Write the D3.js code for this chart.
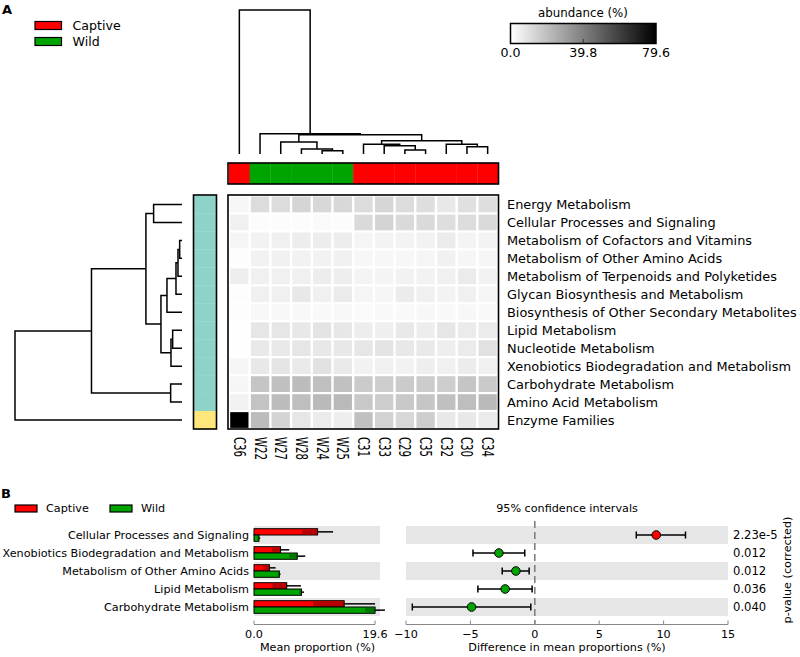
<!DOCTYPE html>
<html><head><meta charset="utf-8">
<script src="https://cdn.jsdelivr.net/npm/d3@7"></script>
<style>
body{margin:0;background:#fff}
svg{display:block}
text{font-family:"DejaVu Sans",sans-serif;fill:#000}
</style>
</head><body>
<svg id="chart" width="800" height="657"></svg>
<script>
// ---------------- DATA ----------------
const samples = ["C36","W22","W27","W28","W24","W25","C31","C33","C29","C35","C32","C30","C34"];
const sampleGroups = ["Captive","Wild","Wild","Wild","Wild","Wild","Captive","Captive","Captive","Captive","Captive","Captive","Captive"];
const groupNames = ["Captive","Wild"];
const groupColors = ["#ff0000","#00a400"];

const pathways = [
  "Energy Metabolism",
  "Cellular Processes and Signaling",
  "Metabolism of Cofactors and Vitamins",
  "Metabolism of Other Amino Acids",
  "Metabolism of Terpenoids and Polyketides",
  "Glycan Biosynthesis and Metabolism",
  "Biosynthesis of Other Secondary Metabolites",
  "Lipid Metabolism",
  "Nucleotide Metabolism",
  "Xenobiotics Biodegradation and Metabolism",
  "Carbohydrate Metabolism",
  "Amino Acid Metabolism",
  "Enzyme Families"
];
const pathwayClusters = [1,1,1,1,1,1,1,1,1,1,1,1,2];
const clusterColors = {1:"#8dd3c7", 2:"#ffe67a"};

// abundance (%) rows = pathways, columns = samples (order above)
const abundance = [
  [2.5,10.9,10.9,13.1,12.2,12.2,10.9,12.8,10.9,10.3,7.2,9.7,10.3],
  [4.7,0.9,0.9,0.9,1.6,0.9,11.6,13.4,11.6,11.6,10.3,10.9,11.6],
  [3.1,4.1,4.7,5.6,5.6,5.6,3.1,3.7,3.7,4.1,6.2,3.4,3.7],
  [0.5,4.0,4.3,4.1,4.2,4.3,2.6,2.5,2.6,3.0,4.4,2.8,2.8],
  [5.3,4.7,4.7,4.7,5.6,5.3,3.4,3.4,4.1,4.1,4.7,6.2,4.1],
  [0.6,4.7,4.7,7.2,4.7,6.2,3.1,2.8,5.9,4.7,3.7,4.7,3.1],
  [0.6,2.2,2.2,2.2,1.9,2.2,1.6,1.9,1.9,2.5,1.9,2.5,1.9],
  [0.3,7.7,7.8,7.2,8.3,7.6,5.6,5.0,6.8,5.6,7.9,6.2,6.2],
  [0.3,6.9,6.9,7.8,7.2,7.2,7.8,8.4,7.2,6.9,5.3,6.2,9.4],
  [2.8,7.2,8.1,6.6,9.1,6.6,4.1,4.7,4.1,5.3,4.7,5.9,4.7],
  [2.8,18.2,19.6,21.0,20.0,19.2,16.2,15.6,16.3,15.8,15.6,18.0,16.4],
  [4.1,18.7,20.9,20.3,21.5,21.9,17.2,15.6,17.2,17.8,19.7,20.3,21.5],
  [79.6,20.9,13.4,7.8,6.2,5.3,19.7,14.0,12.5,15.6,7.2,7.2,6.2]
];
const colorbarTicks = [0.0, 39.8, 79.6];

// dendrograms: [mergeHeight, left, right]
const sampleTree = [100, "C36",
  [14.1, "W22",
    [13.4,
      [8.3, "W27", [3.5, "W28", [2.3, "W24", "W25"]]],
      [9.2,
        [6.7, "C31", [5.8, "C33", [2.8, "C29", "C35"]]],
        [6.7, "C32", [5.1, "C30", "C34"]]
      ]
    ]
  ]
];
const pathwayTree = [100,
  [54.2,
    [21.6,
      [17.0, "Energy Metabolism", "Cellular Processes and Signaling"],
      [12.6,
        [9.0,
          [3.6,
            [2.4,
              [1.4, "Metabolism of Cofactors and Vitamins", "Metabolism of Other Amino Acids"],
              "Metabolism of Terpenoids and Polyketides"],
            "Glycan Biosynthesis and Metabolism"],
          "Biosynthesis of Other Secondary Metabolites"],
        [6.6,
          [5.6, "Lipid Metabolism", "Nucleotide Metabolism"],
          "Xenobiotics Biodegradation and Metabolism"]
      ]
    ],
    [6.8, "Carbohydrate Metabolism", "Amino Acid Metabolism"]
  ],
  "Enzyme Families"
];

// Panel B
const diffPathways = [
  "Cellular Processes and Signaling",
  "Xenobiotics Biodegradation and Metabolism",
  "Metabolism of Other Amino Acids",
  "Lipid Metabolism",
  "Carbohydrate Metabolism"
];
const captiveMean = [10.3, 4.3, 2.5, 5.3, 14.6];
const captiveSD   = [2.5, 1.4, 1.0, 2.3, 5.0];
const wildMean    = [0.8, 7.0, 4.1, 7.7, 19.6];
const wildSD      = [0.2, 1.3, 0.2, 0.4, 1.6];
const diffMean    = [9.43, -2.79, -1.47, -2.30, -4.91];
const ciLow       = [7.88, -4.80, -2.53, -4.42, -9.51];
const ciHigh      = [11.70, -0.78, -0.44, -0.21, -0.31];
const pValues     = ["2.23e-5", "0.012", "0.012", "0.036", "0.040"];
const propTicks   = [0.0, 19.6];
const diffTicks   = [-10, -5, 0, 5, 10, 15];

// ---------------- DRAW ----------------
const svg = d3.select("#chart");
const FS = 12.6;   // panel A legend
const FR = 12.9;   // panel A row labels
const FB = 11.2;   // panel B texts

// Panel A label & legend
svg.append("text").attr("x", 2).attr("y", 14).attr("font-size", 13).attr("font-weight", "bold").text("A");
const legA = svg.append("g");
groupNames.forEach((g, i) => {
  legA.append("rect").attr("x", 35).attr("y", 21.5 + i * 16).attr("width", 26.5).attr("height", 8)
    .attr("fill", groupColors[i]).attr("stroke", "#000").attr("stroke-width", 1.2);
  legA.append("text").attr("x", 72.5).attr("y", 25.5 + i * 16).attr("dy", "0.35em")
    .attr("font-size", FS).text(g);
});

// scales for heatmap
const xCol = d3.scaleBand().domain(samples).range([229, 498]);
const yRow = d3.scaleBand().domain(pathways).range([195.5, 429]);
const maxAb = colorbarTicks[colorbarTicks.length - 1];
const color = d3.scaleLinear().domain([0, maxAb]).range(["#ffffff", "#000000"]);

// heatmap cells
const hm = svg.append("g");
pathways.forEach((p, r) => {
  samples.forEach((s, c) => {
    hm.append("rect")
      .attr("x", xCol(s) + 1.2).attr("y", yRow(p) + 1.1)
      .attr("width", xCol.bandwidth() - 2.4).attr("height", yRow.bandwidth() - 2.2)
      .attr("fill", color(abundance[r][c]));
  });
});
hm.append("rect").attr("x", 228).attr("y", 195).attr("width", 270.5).attr("height", 234)
  .attr("fill", "none").attr("stroke", "#000").attr("stroke-width", 1.6);

// column group colour bar
const cb = svg.append("g");
samples.forEach((s, i) => {
  cb.append("rect").attr("x", xCol(s)).attr("y", 163).attr("width", xCol.bandwidth() + 0.3).attr("height", 21)
    .attr("fill", groupColors[groupNames.indexOf(sampleGroups[i])]);
});
cb.append("rect").attr("x", 228).attr("y", 163).attr("width", 270.5).attr("height", 21)
  .attr("fill", "none").attr("stroke", "#000").attr("stroke-width", 1.6);

// row cluster colour bar
const rb = svg.append("g");
pathways.forEach((p, i) => {
  rb.append("rect").attr("x", 193.5).attr("y", yRow(p)).attr("width", 23).attr("height", yRow.bandwidth() + 0.3)
    .attr("fill", clusterColors[pathwayClusters[i]]);
});
rb.append("rect").attr("x", 193.5).attr("y", 195).attr("width", 23).attr("height", 234)
  .attr("fill", "none").attr("stroke", "#000").attr("stroke-width", 1.6);

// row labels
pathways.forEach(p => {
  svg.append("text").attr("x", 507).attr("y", yRow(p) + yRow.bandwidth() / 2).attr("dy", "0.35em")
    .attr("font-size", FR).text(p);
});
// column labels (rotated)
samples.forEach(s => {
  svg.append("text")
    .attr("transform", `translate(${xCol(s) + xCol.bandwidth() / 2},437) rotate(90) scale(0.85,1.3)`)
    .attr("dy", "0.35em").attr("font-size", 12).text(s);
});

// dendrogram layout
function layout(node, leafPos) {
  if (typeof node === "string") return { leaf: true, pos: leafPos(node), h: 0 };
  const l = layout(node[1], leafPos), r = layout(node[2], leafPos);
  return { leaf: false, h: node[0], l, r, pos: (l.pos + r.pos) / 2 };
}
function internals(n, out = []) {
  if (n.leaf) return out;
  out.push(n); internals(n.l, out); internals(n.r, out); return out;
}
// top dendrogram
const colRoot = layout(sampleTree, s => xCol(s) + xCol.bandwidth() / 2);
const hTop = d3.scaleLinear().domain([0, 100]).range([154, 10]);
svg.append("g").selectAll("path").data(internals(colRoot)).join("path")
  .attr("d", n => `M${n.l.pos},${hTop(n.l.h)}V${hTop(n.h)}H${n.r.pos}V${hTop(n.r.h)}`)
  .attr("fill", "none").attr("stroke", "#000").attr("stroke-width", 1.5);
// left dendrogram
const rowRoot = layout(pathwayTree, p => yRow(p) + yRow.bandwidth() / 2);
const hLeft = d3.scaleLinear().domain([0, 100]).range([182, 15]);
svg.append("g").selectAll("path").data(internals(rowRoot)).join("path")
  .attr("d", n => `M${hLeft(n.l.h)},${n.l.pos}H${hLeft(n.h)}V${n.r.pos}H${hLeft(n.r.h)}`)
  .attr("fill", "none").attr("stroke", "#000").attr("stroke-width", 1.5);

// colour bar legend
const grad = svg.append("defs").append("linearGradient").attr("id", "gr");
grad.append("stop").attr("offset", "0%").attr("stop-color", color(0));
grad.append("stop").attr("offset", "100%").attr("stop-color", color(maxAb));
const cbx = d3.scaleLinear().domain([0, maxAb]).range([510.5, 656]);
svg.append("rect").attr("x", cbx(0)).attr("y", 23.5).attr("width", cbx(maxAb) - cbx(0)).attr("height", 20)
  .attr("fill", "url(#gr)").attr("stroke", "#000").attr("stroke-width", 1.5);
svg.append("text").attr("x", 583).attr("y", 13).attr("dy", "0.35em").attr("text-anchor", "middle")
  .attr("font-size", 11.8).text("abundance (%)");
colorbarTicks.forEach(t => {
  svg.append("text").attr("x", cbx(t)).attr("y", 53).attr("dy", "0.35em").attr("text-anchor", "middle")
    .attr("font-size", FS).text(t.toFixed(1));
});
svg.append("line").attr("x1", cbx(colorbarTicks[1])).attr("x2", cbx(colorbarTicks[1]))
  .attr("y1", 43.5).attr("y2", 39).attr("stroke", "#333").attr("stroke-width", 1);

// ---------------- Panel B ----------------
svg.append("text").attr("x", 1).attr("y", 498).attr("font-size", 13).attr("font-weight", "bold").text("B");
groupNames.forEach((g, i) => {
  const x0 = i === 0 ? 15 : 110;
  svg.append("rect").attr("x", x0).attr("y", 505).attr("width", 22).attr("height", 7)
    .attr("fill", groupColors[i]).attr("stroke", "#000").attr("stroke-width", 1.2);
  svg.append("text").attr("x", x0 + 31).attr("y", 508.5).attr("dy", "0.35em").attr("font-size", FB).text(g);
});

const yB = d3.scaleBand().domain(diffPathways).range([526, 616]);
const xP = d3.scaleLinear().domain([0, 20.4]).range([254, 380]);
const xD = d3.scaleLinear().domain([-10, 15]).range([406, 728]);

// alternating background bands
diffPathways.forEach((p, i) => {
  if (i % 2 === 0) {
    svg.append("rect").attr("x", xP.range()[0]).attr("y", yB(p)).attr("width", xP.range()[1] - xP.range()[0])
      .attr("height", yB.bandwidth()).attr("fill", "#e6e6e6");
    svg.append("rect").attr("x", xD.range()[0]).attr("y", yB(p)).attr("width", xD.range()[1] - xD.range()[0])
      .attr("height", yB.bandwidth()).attr("fill", "#e6e6e6");
  }
  svg.append("text").attr("x", 249).attr("y", yB(p) + yB.bandwidth() / 2).attr("dy", "0.35em")
    .attr("text-anchor", "end").attr("font-size", FB).text(p);
});

// bars
const barH = 6.3;
diffPathways.forEach((p, i) => {
  const yc = yB(p) + yB.bandwidth() / 2;
  [[captiveMean[i], captiveSD[i], groupColors[0], yc - barH], [wildMean[i], wildSD[i], groupColors[1], yc]]
    .forEach(([m, sd, col, y0]) => {
      svg.append("rect").attr("x", xP(0)).attr("y", y0).attr("width", xP(m) - xP(0)).attr("height", barH)
        .attr("fill", col).attr("stroke", "#000").attr("stroke-width", 1);
      svg.append("rect").attr("x", xP(Math.max(0, m - sd))).attr("y", y0 + 1).attr("width", xP(m) - xP(Math.max(0, m - sd)))
        .attr("height", barH - 2).attr("fill", "#000").attr("fill-opacity", 0.28);
      svg.append("line").attr("x1", xP(m)).attr("x2", xP(m + sd)).attr("y1", y0 + barH / 2).attr("y2", y0 + barH / 2)
        .attr("stroke", "#000").attr("stroke-width", 1.5);
    });
});

// bar axis
const gP = svg.append("g").attr("transform", "translate(0,624.5)");
gP.append("line").attr("x1", xP(propTicks[0])).attr("x2", xP(propTicks[1])).attr("stroke", "#888");
propTicks.forEach(t => {
  gP.append("line").attr("x1", xP(t)).attr("x2", xP(t)).attr("y1", 0).attr("y2", -4).attr("stroke", "#888");
  gP.append("text").attr("x", xP(t)).attr("y", 9.5).attr("dy", "0.35em").attr("text-anchor", "middle")
    .attr("font-size", FB).text(t.toFixed(1));
});
gP.append("text").attr("x", (xP(propTicks[0]) + xP(propTicks[1])) / 2 + 3).attr("y", 22.5).attr("dy", "0.35em")
  .attr("text-anchor", "middle").attr("font-size", FB).text("Mean proportion (%)");

// CI panel
svg.append("line").attr("x1", xD(0)).attr("x2", xD(0)).attr("y1", 521).attr("y2", 624)
  .attr("stroke", "#808080").attr("stroke-width", 1.6).attr("stroke-dasharray", "7,4");
diffPathways.forEach((p, i) => {
  const yc = yB(p) + yB.bandwidth() / 2;
  svg.append("line").attr("x1", xD(ciLow[i])).attr("x2", xD(ciHigh[i])).attr("y1", yc).attr("y2", yc)
    .attr("stroke", "#000").attr("stroke-width", 1.5);
  [ciLow[i], ciHigh[i]].forEach(v => {
    svg.append("line").attr("x1", xD(v)).attr("x2", xD(v)).attr("y1", yc - 3.5).attr("y2", yc + 3.5)
      .attr("stroke", "#000").attr("stroke-width", 1.5);
  });
  svg.append("circle").attr("cx", xD(diffMean[i])).attr("cy", yc).attr("r", 4.3)
    .attr("fill", diffMean[i] > 0 ? groupColors[0] : groupColors[1]).attr("stroke", "#000").attr("stroke-width", 1);
  svg.append("text").attr("x", 733).attr("y", yc).attr("dy", "0.35em").attr("font-size", 11.6).text(pValues[i]);
});
const gD = svg.append("g").attr("transform", "translate(0,624.5)");
gD.append("line").attr("x1", xD(-10)).attr("x2", xD(15)).attr("stroke", "#888");
diffTicks.forEach(t => {
  gD.append("line").attr("x1", xD(t)).attr("x2", xD(t)).attr("y1", 0).attr("y2", -4).attr("stroke", "#888");
  gD.append("text").attr("x", xD(t)).attr("y", 9.5).attr("dy", "0.35em").attr("text-anchor", "middle")
    .attr("font-size", FB).text(t < 0 ? "\u2212" + Math.abs(t) : t);
});
gD.append("text").attr("x", 567).attr("y", 22.5).attr("dy", "0.35em").attr("text-anchor", "middle")
  .attr("font-size", FB).text("Difference in mean proportions (%)");
svg.append("text").attr("x", 567).attr("y", 508).attr("dy", "0.35em").attr("text-anchor", "middle")
  .attr("font-size", FB).text("95% confidence intervals");
svg.append("text").attr("transform", "translate(787,570) rotate(-90)").attr("dy", "0.35em")
  .attr("text-anchor", "middle").attr("font-size", FB).text("p-value (corrected)");
</script>
</body></html>
